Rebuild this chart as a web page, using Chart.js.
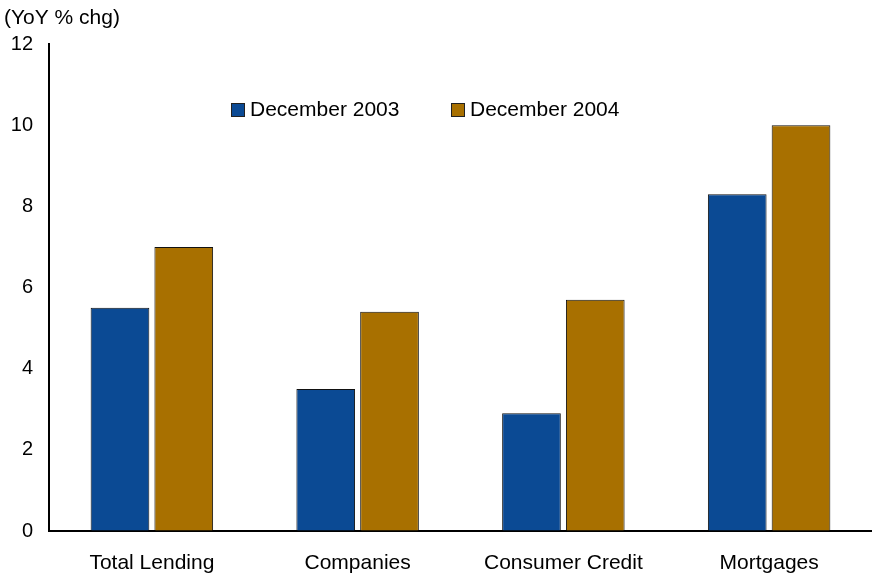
<!DOCTYPE html>
<html>
<head>
<meta charset="utf-8">
<script src="https://cdn.jsdelivr.net/npm/chart.js@4/dist/chart.umd.min.js"></script>
<style>
  html, body { margin: 0; padding: 0; background: #fff; }
  #wrap { width: 872px; height: 573px; }
</style>
</head>
<body>
<div id="wrap"><canvas id="c" width="872" height="573"></canvas></div>
<script>
// data
const categories = ['Total Lending', 'Companies', 'Consumer Credit', 'Mortgages'];
const dec2003 = [5.5, 3.5, 2.9, 8.3];
const dec2004 = [7.0, 5.4, 5.7, 10.0];
const seriesNames = ['December 2003', 'December 2004'];
const unitLabel = '(YoY % chg)';

const BLUE = '#0B4A94';
const GOLD = '#A87000';
const FONT = "'Liberation Sans', Arial, sans-serif";

// legend + unit label drawn on canvas at fixed spots
const extras = {
  id: 'extras',
  afterDraw(chart) {
    const ctx = chart.ctx;
    ctx.save();
    ctx.font = '21px ' + FONT;
    ctx.fillStyle = '#000';
    ctx.textBaseline = 'middle';
    ctx.textAlign = 'left';
    ctx.fillText(unitLabel, 4, 18);

    const spots = [231, 451];
    chart.data.datasets.forEach((ds, i) => {
      const x = spots[i];
      ctx.fillStyle = ds.backgroundColor;
      ctx.fillRect(x, 103.5, 13, 13);
      ctx.strokeStyle = '#222';
      ctx.lineWidth = 1;
      ctx.strokeRect(x + 0.5, 103.5, 13, 13);
      ctx.fillStyle = '#000';
      ctx.fillText(ds.label, x + 19, 110);
    });
    ctx.restore();
  }
};

new Chart(document.getElementById('c'), {
  type: 'bar',
  data: {
    labels: categories,
    datasets: [
      { label: seriesNames[0], data: dec2003, backgroundColor: BLUE, borderColor: '#111', borderWidth: 1 },
      { label: seriesNames[1], data: dec2004, backgroundColor: GOLD, borderColor: '#111', borderWidth: 1 }
    ]
  },
  options: {
    responsive: false,
    animation: false,
    devicePixelRatio: 1,
    layout: { padding: { top: 44, right: 0, left: 0, bottom: 0 } },
    categoryPercentage: 0.62,
    barPercentage: 0.92,
    plugins: {
      legend: { display: false },
      title: { display: false },
      tooltip: { enabled: false }
    },
    scales: {
      x: {
        grid: { display: true, drawOnChartArea: false, drawTicks: false },
        border: { display: true, color: '#000', width: 2 },
        ticks: { color: '#000', font: { family: FONT, size: 21 }, padding: 20, maxRotation: 0 },
        afterFit(s) { s.height = 42; }
      },
      y: {
        min: 0, max: 12,
        grid: { display: true, drawOnChartArea: false, drawTicks: false },
        border: { display: true, color: '#000', width: 2 },
        ticks: { stepSize: 2, color: '#000', font: { family: FONT, size: 20 }, padding: 16 },
        afterFit(s) { s.width = 49; }
      }
    }
  },
  plugins: [extras]
});
</script>
</body>
</html>
